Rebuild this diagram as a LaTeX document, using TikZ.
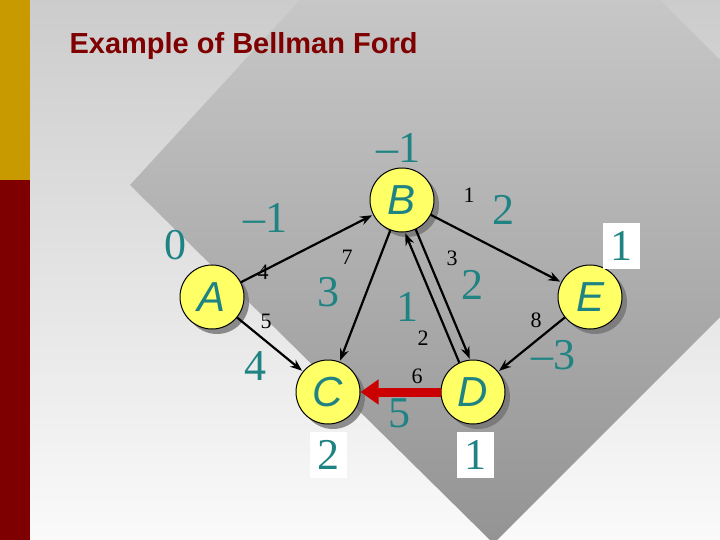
\documentclass[tikz,border=0pt]{standalone}
\usepackage{fontspec}
\setmainfont{Liberation Serif}
\setsansfont{Liberation Sans}
\usetikzlibrary{arrows.meta,shadows}
\definecolor{teal2}{HTML}{1F8383}
\definecolor{gold}{HTML}{C99A00}
\definecolor{dred}{HTML}{7F0000}
\definecolor{nodey}{HTML}{FFFF66}
\begin{document}
\begin{tikzpicture}[x=1pt,y=-1pt,
  vtx/.style={circle,draw=black,line width=1pt,fill=nodey,minimum size=64pt,inner sep=0pt,
    font=\sffamily\itshape\fontsize{42}{42}\selectfont,text=teal2,
    drop shadow={shadow xshift=5pt,shadow yshift=-5pt,fill=black!55,opacity=0.8}},
  big/.style={font=\fontsize{44}{44}\selectfont,text=teal2,inner sep=1pt},
  sm/.style={font=\fontsize{22}{22}\selectfont,text=black,inner sep=0pt},
  box/.style={big,fill=white,minimum width=37pt,minimum height=46pt},
  edge/.style={-{Stealth[length=12pt,width=9pt]},line width=2.2pt,shorten >=1pt}]
\useasboundingbox (0,0) rectangle (720,540);
\shade[top color=black!20,bottom color=blue!3!black!2] (0,0) rectangle (720,540);
\shade[top color=black!22,bottom color=black!42] (300,0) -- (660,0) -- (720,60) -- (720,317) -- (497,540) -- (490,540) -- (130,185) -- cycle;
\fill[gold] (0,0) rectangle (30,180);
\fill[dred] (0,180) rectangle (30,540);
\node[anchor=west,font=\sffamily\bfseries\fontsize{29}{29}\selectfont,text=dred] (t) at (66,46) {Example of Bellman Ford};
\node[vtx] (A) at (212,297) {A};
\node[vtx] (B) at (402,200) {B};
\node[vtx] (C) at (328,392) {C};
\node[vtx] (D) at (473,392) {D};
\node[vtx] (E) at (590,297) {E};
\draw[edge] (A) -- (B);
\draw[edge] (A) -- (C);
\draw[edge] (B) -- (C);
\draw[edge] (B.-65) -- (D.95);
\draw[edge] (D.115) -- (B.-85);
\draw[edge] (B) -- (E);
\draw[edge] (E) -- (D);
\draw[-{Triangle[length=18pt,width=24pt]},line width=9pt,draw={rgb,255:red,204;green,0;blue,0}] (D) -- (C);
\node[big] (l1) at (398,148) {–1};
\node[big] (l2) at (175,245) {0};
\node[big] (l3) at (265,218) {–1};
\node[sm] (s1) at (263,272) {4};
\node[sm] (s2) at (347,257) {7};
\node[sm] (s3) at (452,258) {3};
\node[sm] (s4) at (469,195) {1};
\node[big] (l4) at (503,210) {2};
\node[box] (l5) at (621,246) {1};
\node[big] (l6) at (328,292) {3};
\node[big] (l7) at (407,307) {1};
\node[big] (l8) at (472,285) {2};
\node[sm] (s5) at (423,338) {2};
\node[sm] (s6) at (536,320) {8};
\node[big] (l9) at (553,355) {–3};
\node[sm] (s7) at (266,321) {5};
\node[big] (l10) at (255,366) {4};
\node[sm] (s8) at (417,376) {6};
\node[big] (l11) at (399,413) {5};
\node[box] (l12) at (328,455) {2};
\node[box] (l13) at (475,455) {1};
\end{tikzpicture}
\end{document}
